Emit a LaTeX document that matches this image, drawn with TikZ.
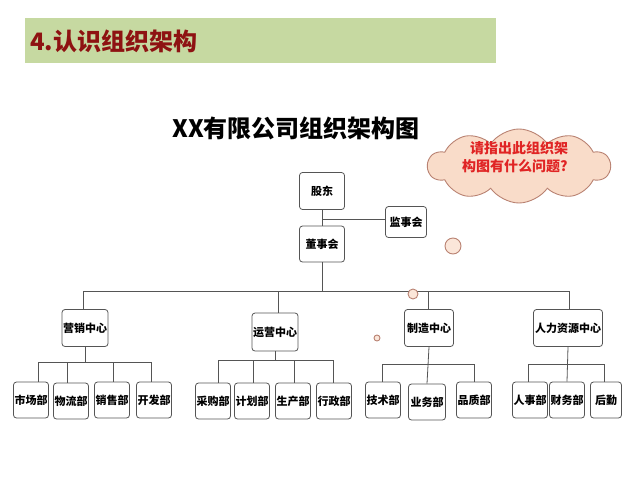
\documentclass[tikz,border=0pt]{standalone}
\usepackage{fontspec}
\usetikzlibrary{shapes.symbols}
\newfontfamily\cjk{Noto Sans CJK SC}
\definecolor{barfill}{HTML}{C6D9A1}
\definecolor{titlered}{HTML}{8E1212}
\definecolor{cloudfill}{HTML}{F9DCC9}
\definecolor{clouddraw}{HTML}{B98272}
\definecolor{qred}{HTML}{E02424}
\definecolor{linegray}{HTML}{555555}
\tikzset{
  orgbox/.style={draw=linegray, fill=white, rounded corners=3pt, line width=0.8pt,
    font=\cjk\bfseries\fontsize{11}{13}\selectfont, inner sep=1pt, align=center},
  conn/.style={draw=linegray, line width=0.8pt},
  bubble/.style={draw=clouddraw, fill=cloudfill!70!white, line width=0.9pt, circle, inner sep=0pt}
}
\begin{document}
\begin{tikzpicture}[x=1pt,y=-1pt]
\useasboundingbox (0,0) rectangle (640,480);
% title bar
\fill[barfill] (25,18) rectangle (496,63);
\node[anchor=west, text=titlered, font=\cjk\bfseries\fontsize{24}{28}\selectfont, inner sep=0pt] (title) at (30,41) {4.认识组织架构};
% subtitle
\node[font=\cjk\bfseries\fontsize{24}{28}\selectfont, inner sep=0pt] (sub) at (296,128) {XX有限公司组织架构图};
% cloud and bubbles
\node[cloud, cloud puffs=10, cloud puff arc=110, cloud ignores aspect, draw=clouddraw, fill=cloudfill, line width=0.9pt,
  minimum width=182pt, minimum height=74pt, inner sep=0pt] (cloud) at (519,166) {};
\node[text=qred, font=\cjk\bfseries\fontsize{14}{18}\selectfont, align=left, inner sep=0pt] (q) at (515,157) {\hspace{8pt}请指出此组织架\\构图有什么问题?};
\node[bubble, minimum size=16pt] (b1) at (453,246) {};
% top
\node[orgbox, minimum width=45pt, minimum height=37pt] (gd) at (322,191) {股东};
\node[orgbox, minimum width=41pt, minimum height=31pt] (js) at (406,222) {监事会};
\node[orgbox, minimum width=45pt, minimum height=36pt] (ds) at (322,244) {董事会};
\coordinate (jj) at (322,219);
\draw[conn] (gd.south) -- (ds.north);
\draw[conn] (jj) -- (js.west |- jj);
% centers
\node[orgbox, minimum width=45pt, minimum height=37pt] (yx) at (85,328) {营销中心};
\node[orgbox, minimum width=46pt, minimum height=38pt] (yy) at (275,332) {运营中心};
\node[orgbox, minimum width=49pt, minimum height=37pt] (zz) at (429,328) {制造中心};
\node[orgbox, minimum width=69pt, minimum height=37pt] (rl) at (568,328) {人力资源中心};
\coordinate (busL) at (83,291);
\coordinate (busR) at (569,291);
\draw[conn] (ds.south) -- (ds.south |- busL);
\draw[conn] (yx.north -| busL) -- (busL) -- (busR) -- (rl.north -| busR);
\coordinate (yyb) at (278,291);
\coordinate (zzb) at (428,291);
\draw[conn] (yyb) -- (yy.north -| yyb);
\draw[conn] (zzb) -- (zz.north -| zzb);
% sub boxes
\tikzset{subbox/.style={orgbox, minimum width=35pt, minimum height=36pt}}
\node[subbox] (a1) at (31,400) {市场部};
\node[subbox] (a2) at (71,401) {物流部};
\node[subbox] (a3) at (112,400) {销售部};
\node[subbox] (a4) at (154,400) {开发部};
\node[subbox] (b1s) at (213,401) {采购部};
\node[subbox] (b2) at (252,401) {计划部};
\node[subbox, minimum width=34pt] (b3) at (293,401) {生产部};
\node[subbox] (b4) at (334,401) {行政部};
\node[subbox] (c1) at (383,400) {技术部};
\node[subbox, minimum width=37pt] (c2) at (427,402) {业务部};
\node[subbox, minimum width=34pt] (c3) at (474,400) {品质部};
\node[subbox] (d1) at (530,400) {人事部};
\node[subbox, minimum width=33pt] (d2) at (567,400) {财务部};
\node[subbox, minimum width=31pt] (d3) at (606,400) {后勤};
% marketing branch
\coordinate (ya) at (38,362); \coordinate (yb) at (151,362);
\draw[conn] (yx.south) -- (yx.south |- ya);
\draw[conn] (a1.north -| ya) -- (ya) -- (yb) -- (a4.north -| yb);
\coordinate (ym) at (67,362); \coordinate (yn) at (113,362);
\draw[conn] (ym) -- (a2.north -| ym);
\draw[conn] (yn) -- (a3.north -| yn);
% operations branch
\coordinate (oa) at (218,360); \coordinate (ob) at (333,360);
\draw[conn] (yy.south) -- (yy.south |- oa);
\draw[conn] (b1s.north -| oa) -- (oa) -- (ob) -- (b4.north -| ob);
\coordinate (om) at (253,360); \coordinate (on) at (294,360);
\draw[conn] (om) -- (b2.north -| om);
\draw[conn] (on) -- (b3.north -| on);
% manufacturing branch
\coordinate (ma) at (382,364); \coordinate (mb) at (474,364);
\draw[conn] (zz.south) -- (c2.north);
\draw[conn] (c1.north -| ma) -- (ma) -- (mb) -- (c3.north -| mb);
% HR branch
\coordinate (ha) at (528,364); \coordinate (hb) at (604,364);
\draw[conn] (rl.south) -- (d2.north);
\draw[conn] (d1.north -| ha) -- (ha) -- (hb) -- (d3.north -| hb);
% small bubbles
\node[bubble, minimum size=10pt] (b2c) at (413,294) {};
\node[bubble, minimum size=6pt] (b3c) at (377,338) {};
\end{tikzpicture}
\end{document}
